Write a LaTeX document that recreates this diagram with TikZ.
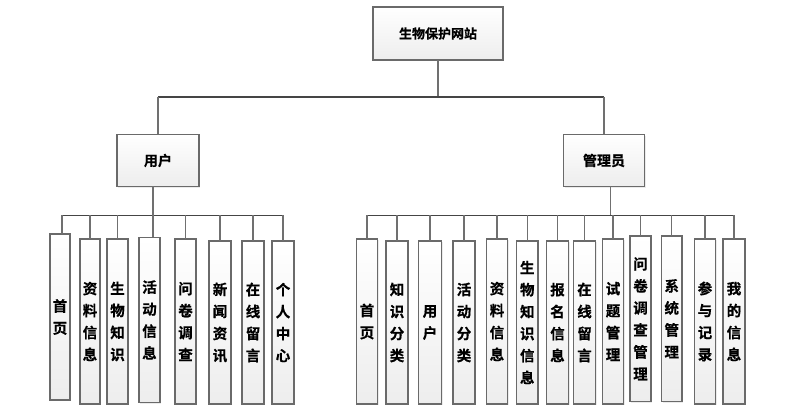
\documentclass[tikz,border=0pt]{standalone}
\usepackage{fontspec}
\newfontfamily\cjk[FakeBold=0.6]{Noto Sans CJK SC Bold}
\usetikzlibrary{shadows}
\definecolor{boxline}{HTML}{6A6A6A}
\definecolor{conn}{HTML}{707070}
\definecolor{busc}{HTML}{454545}
\tikzset{
  x=1pt,y=-1pt,
  basebox/.style={draw=boxline, line width=1.3pt, top color=white, bottom color=black!7,
    inner sep=0pt, outer sep=0pt, align=center,
    drop shadow={shadow xshift=1.2pt, shadow yshift=-1.2pt, opacity=0.08, fill=black}},
  mainbox/.style={basebox, font=\cjk\fontsize{14}{15}\selectfont},
  leafbox/.style={basebox, font=\cjk\fontsize{14.5}{22}\selectfont},
  wire/.style={draw=conn, line width=1.4pt},
  bus/.style={draw=busc, line width=1.5pt},
}
\newcommand{\leaf}[6]{% name, x1, x2, y1, y2, text
  \pgfmathsetmacro{\lw}{#3-#2}\pgfmathsetmacro{\lh}{#5-#4}
  \node[leafbox, minimum width=\lw pt, minimum height=\lh pt] (#1) at ({(#2+#3)/2},{(#4+#5)/2}) {#6};}
\begin{document}
\begin{tikzpicture}
\useasboundingbox (0,0) rectangle (794,419);
% top level
\node[mainbox, minimum width=130pt, minimum height=53pt, font=\cjk\fontsize{13}{15}\selectfont] (root) at (438,33.5) {生物保护网站};
\node[mainbox, minimum width=82pt, minimum height=52pt] (user) at (158,160.5) {用户};
\node[mainbox, minimum width=81pt, minimum height=52pt] (admin) at (604,160.5) {管理员};
\coordinate (tbus) at (438,97);
\draw[wire] (root.south) -- (tbus);
\draw[bus] (user.north |- tbus) -- (admin.north |- tbus);
\draw[wire] (user.north |- tbus) -- (user.north);
\draw[wire] (admin.north |- tbus) -- (admin.north);
% user leaves
\leaf{u1}{50}{70}{234}{400}{首\\页}
\leaf{u2}{80}{100}{239}{404}{资\\料\\信\\息}
\leaf{u3}{107}{128}{239}{404}{生\\物\\知\\识}
\leaf{u4}{139}{160}{237.5}{402.5}{活\\动\\信\\息}
\leaf{u5}{175}{196}{239}{404}{问\\卷\\调\\查}
\leaf{u6}{209}{231}{241}{404}{新\\闻\\资\\讯}
\leaf{u7}{242}{264}{241}{404}{在\\线\\留\\言}
\leaf{u8}{272}{294}{241}{404}{个\\人\\中\\心}
\coordinate (ubus) at (153,215.5);
\draw[wire] ([xshift=-5pt]user.south) -- (ubus);
\draw[bus] ([xshift=2pt]u1.north |- ubus) -- (u8.north |- ubus);
\draw[wire] ([xshift=2pt]u1.north |- ubus) -- ([xshift=2pt]u1.north);
\draw[wire] ([xshift=3.5pt]u4.north |- ubus) -- ([xshift=3.5pt]u4.north);
\foreach \n in {u2,u3,u5,u6,u7,u8} \draw[wire] (\n.north |- ubus) -- (\n.north);
% admin leaves
\leaf{a1}{356.5}{377.5}{239}{404}{首\\页}
\leaf{a2}{386}{408}{241}{404}{知\\识\\分\\类}
\leaf{a3}{418.5}{441.5}{241}{404}{用\\户}
\leaf{a4}{453}{475}{241}{404}{活\\动\\分\\类}
\leaf{a5}{486.5}{507.5}{239}{404}{资\\料\\信\\息}
\leaf{a6}{516.5}{538}{241}{404}{生\\物\\知\\识\\信\\息}
\leaf{a7}{546.5}{568.5}{241}{404}{报\\名\\信\\息}
\leaf{a8}{573.5}{595.5}{241}{404}{在\\线\\留\\言}
\leaf{a9}{602.5}{623.5}{239}{404}{试\\题\\管\\理}
\leaf{a10}{630}{651}{236}{401.5}{问\\卷\\调\\查\\管\\理}
\leaf{a11}{661.5}{682}{236}{401.5}{系\\统\\管\\理}
\leaf{a12}{694.5}{715.5}{239}{404}{参\\与\\记\\录}
\leaf{a13}{723}{745}{239}{404}{我\\的\\信\\息}
\coordinate (abus) at (610.5,215.5);
\draw[wire] ([xshift=6.5pt]admin.south) -- (abus);
\draw[bus] (a1.north |- abus) -- (a13.north |- abus);
\foreach \n in {a1,a2,a3,a4,a5,a6,a7,a8,a9,a10,a11,a12,a13} \draw[wire] (\n.north |- abus) -- (\n.north);
\end{tikzpicture}
\end{document}
